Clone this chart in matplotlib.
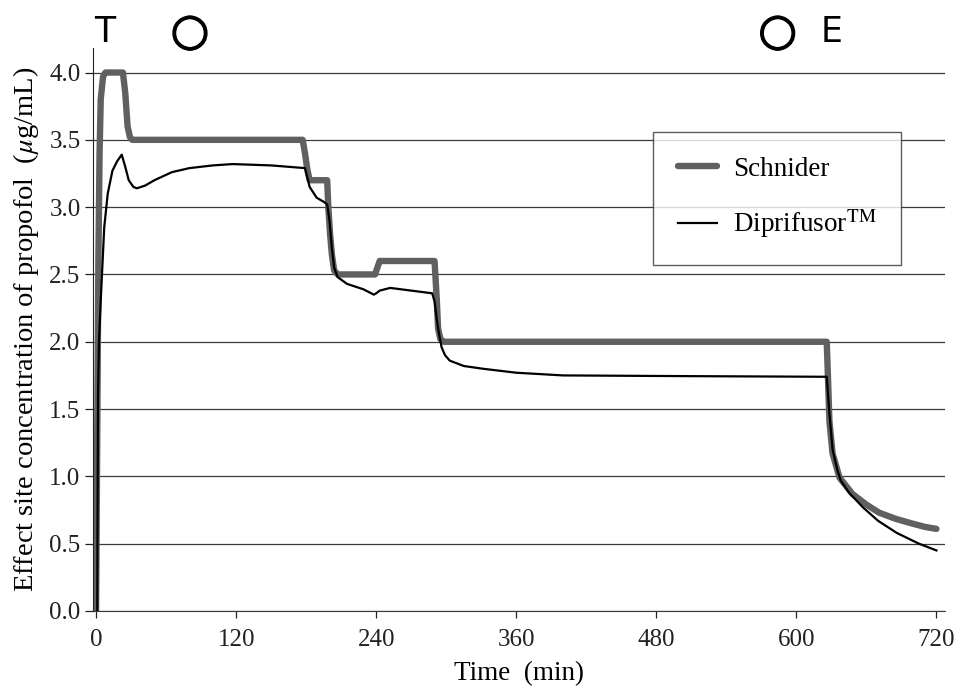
import numpy as np
import matplotlib
matplotlib.use('Agg')
import matplotlib.pyplot as plt
import matplotlib.patheffects as pe

# Schnider (thick gray)
schnider_t = [0, 1, 2, 3, 4, 6, 8, 23, 25, 27, 29, 31,
              177, 179, 181, 183, 198, 199, 200.5, 202, 204, 207,
              239, 241, 243, 290, 291, 292, 293, 295, 298,
              626, 627, 628.3, 631, 637, 648, 660, 671, 685, 699, 710, 720]
schnider_v = [0, 1.3, 2.6, 3.4, 3.8, 3.97, 4.0, 4.0, 3.85, 3.6, 3.52, 3.5,
              3.5, 3.4, 3.28, 3.2, 3.2, 3.0, 2.8, 2.65, 2.53, 2.5,
              2.5, 2.55, 2.6, 2.6, 2.45, 2.3, 2.1, 2.02, 2.0,
              2.0, 1.75, 1.41, 1.17, 0.99, 0.87, 0.79, 0.73, 0.685, 0.65, 0.625, 0.61]

# Diprifusor (thin black)
dipri_t = [1, 1.3, 1.7, 2.5, 4.3, 7, 10, 14, 18, 22, 25, 28, 32, 35, 42, 50, 65, 80, 100, 117, 150, 179,
           183, 189, 195, 198, 200, 202, 204, 207, 215, 229, 238, 240, 243, 252, 270, 288,
           290, 292, 294, 296, 299, 303, 315, 331, 360, 400, 500, 624,
           626, 628, 631, 635, 638, 645, 657, 670, 686, 705, 720]
dipri_v = [0, 0.8, 1.6, 2.0, 2.36, 2.85, 3.10, 3.27, 3.34, 3.39, 3.3, 3.2, 3.15, 3.14, 3.16, 3.2, 3.26, 3.29, 3.31, 3.32, 3.31, 3.29,
           3.15, 3.07, 3.04, 3.02, 2.9, 2.7, 2.55, 2.48, 2.43, 2.39, 2.35, 2.36, 2.38, 2.40, 2.38, 2.36,
           2.3, 2.16, 2.05, 1.96, 1.9, 1.86, 1.82, 1.80, 1.77, 1.75, 1.745, 1.74,
           1.74, 1.5, 1.2, 1.05, 0.97, 0.88, 0.77, 0.67, 0.58, 0.5, 0.45]

xticks = [0, 120, 240, 360, 480, 600, 720]
yticks = [0.0, 0.5, 1.0, 1.5, 2.0, 2.5, 3.0, 3.5, 4.0]

plt.rcParams['font.family'] = ['Liberation Serif', 'DejaVu Serif']
plt.rcParams['mathtext.fontset'] = 'stix'

fig = plt.figure(figsize=(9.59, 6.90), dpi=100)
ax = fig.add_axes([0.097, 0.1145, 0.888, 0.8155])

ax.set_yticks(yticks)
for y in yticks:
    ax.axhline(y, color='#3a3a3a', lw=0.9, zorder=1)

ax.plot(schnider_t, schnider_v, color='#606060', lw=4.6, solid_capstyle='round',
        solid_joinstyle='round', label='Schnider', zorder=2)
ax.plot(dipri_t, dipri_v, color='black', lw=1.6, label='Diprifusor$^{\\mathrm{TM}}$', zorder=3)

ax.set_xlim(-2.6, 727)
ax.set_ylim(0, 4.18)
ax.set_xticks(xticks)
ax.set_yticklabels(['%.1f' % y for y in yticks])
ax.spines['top'].set_visible(False)
ax.spines['right'].set_visible(False)
ax.spines['left'].set_color('#222222')
ax.spines['bottom'].set_color('#3a3a3a')
ax.tick_params(axis='y', length=6, width=0.9, pad=3, labelsize=18, colors='#222222')
ax.tick_params(axis='x', length=5, width=0.9, pad=8, labelsize=18, colors='#222222')

ax.set_xlabel('Time  (min)', fontsize=19.5, labelpad=7)
ax.set_ylabel('Effect site concentration of propofol  ($\\mu$g/mL)', fontsize=20.5, labelpad=6)

leg = ax.legend(loc='upper left', bbox_to_anchor=(0.658, 0.851), fontsize=19.5,
                frameon=True, fancybox=False, edgecolor='#333333', borderpad=0.9,
                labelspacing=0.95, handlelength=1.45, handletextpad=0.6, borderaxespad=0)
leg.get_frame().set_linewidth(1.0)

# T / O / O / E markers above the plot
for x, s in [(7.7, 'T'), (80.5, '○'), (584, '○'), (630, 'E')]:
    if s == '○':
        ax.text(x, 4.30, s, fontsize=32, family='DejaVu Sans', ha='center', va='center',
                clip_on=False, path_effects=[pe.withStroke(linewidth=1.0, foreground='black')])
    else:
        ax.text(x, 4.30, s, fontsize=25, family='DejaVu Sans', ha='center', va='center',
                clip_on=False)

fig.savefig('out.png', dpi=100)
